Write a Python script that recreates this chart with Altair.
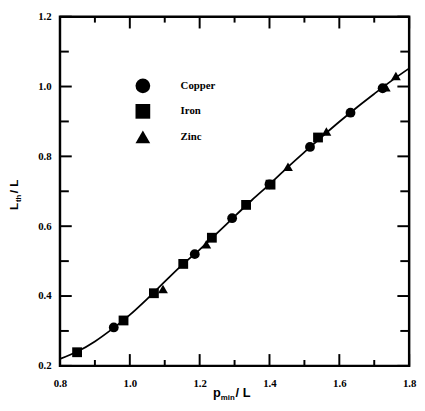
import altair as alt
import pandas as pd

# ---- data ----
copper_x = [0.954, 1.186, 1.293, 1.400, 1.516, 1.632, 1.724]
copper_y = [0.310, 0.520, 0.623, 0.720, 0.827, 0.925, 0.995]
iron_x = [0.849, 0.982, 1.069, 1.153, 1.235, 1.333, 1.403, 1.539]
iron_y = [0.239, 0.330, 0.408, 0.492, 0.567, 0.661, 0.719, 0.854]
zinc_x = [1.095, 1.219, 1.453, 1.563, 1.733, 1.762]
zinc_y = [0.420, 0.548, 0.770, 0.871, 0.998, 1.030]

curve_x = [0.80, 0.85, 0.90, 0.95, 1.00, 1.05, 1.10, 1.15, 1.20, 1.25, 1.30,
           1.35, 1.40, 1.45, 1.50, 1.55, 1.60, 1.65, 1.70, 1.75, 1.80]
curve_y = [0.220, 0.241, 0.270, 0.306, 0.346, 0.392, 0.441, 0.489, 0.533, 0.580, 0.628,
           0.675, 0.720, 0.767, 0.812, 0.856, 0.899, 0.940, 0.979, 1.017, 1.052]

metals = ["Copper", "Iron", "Zinc"]
x_major = [0.8, 1.0, 1.2, 1.4, 1.6, 1.8]
x_minor = [0.9, 1.1, 1.3, 1.5, 1.7]
y_major = [0.2, 0.4, 0.6, 0.8, 1.0, 1.2]
y_minor = [0.3, 0.5, 0.7, 0.9, 1.1]

pts = pd.DataFrame({
    "metal": ["Copper"] * len(copper_x) + ["Iron"] * len(iron_x) + ["Zinc"] * len(zinc_x),
    "x": copper_x + iron_x + zinc_x,
    "y": copper_y + iron_y + zinc_y,
})
curve = pd.DataFrame({"x": curve_x, "y": curve_y})

W, H = 356, 356
SERIF = "Liberation Serif"
SANS = "Liberation Sans"

xscale = alt.Scale(domain=[0.8, 1.8], nice=False, zero=False)
yscale = alt.Scale(domain=[0.2, 1.2], nice=False, zero=False)

xaxis = alt.Axis(values=x_major, format=".1f", ticks=False, domain=False, grid=False,
                 labelFont=SERIF, labelFontWeight="bold", labelFontSize=11,
                 labelColor="black", labelPadding=12, labelFlush=False, title=None)
yaxis = alt.Axis(values=y_major, format=".1f", ticks=False, domain=False, grid=False,
                 labelFont=SERIF, labelFontWeight="bold", labelFontSize=11,
                 labelColor="black", labelPadding=9, title=None)

line = alt.Chart(curve).mark_line(color="black", strokeWidth=1.8, interpolate="monotone").encode(
    x=alt.X("x:Q", scale=xscale, axis=xaxis),
    y=alt.Y("y:Q", scale=yscale, axis=yaxis),
)

points = alt.Chart(pts).mark_point(filled=True, color="black", opacity=1, size=100).encode(
    x=alt.X("x:Q", scale=xscale, axis=xaxis),
    y=alt.Y("y:Q", scale=yscale, axis=yaxis),
    shape=alt.Shape("metal:N",
                    scale=alt.Scale(domain=metals, range=["circle", "square", "triangle-up"]),
                    legend=alt.Legend(orient="none", legendX=77, legendY=63, title=None,
                                      symbolSize=225, symbolFillColor="black",
                                      symbolStrokeColor="black", symbolStrokeWidth=0,
                                      labelFont=SERIF, labelFontWeight="bold",
                                      labelFontSize=11, labelColor="black",
                                      labelOffset=31, rowPadding=11, padding=0)),
)

def xticks(vals, y0, y1):
    return alt.Chart(pd.DataFrame({"x": vals})).mark_rule(color="black", strokeWidth=2).encode(
        x=alt.X("x:Q", scale=xscale, axis=xaxis), y=alt.value(y0), y2=alt.value(y1))

def yticks(vals, x0, x1):
    return alt.Chart(pd.DataFrame({"y": vals})).mark_rule(color="black", strokeWidth=2).encode(
        y=alt.Y("y:Q", scale=yscale, axis=yaxis), x=alt.value(x0), x2=alt.value(x1))

ticks = [
    xticks(x_major, H, H - 12), xticks(x_minor, H, H - 6),
    xticks(x_major, 0, 12), xticks(x_minor, 0, 6),
    yticks(y_major, 0, 12), yticks(y_minor, 0, 9),
    yticks(y_major, W, W - 12), yticks(y_minor, W, W - 9),
]

one = pd.DataFrame({"a": [0]})

def label(txt, x, y, size, angle=0, font=SANS):
    return alt.Chart(one).mark_text(text=txt, font=font, fontWeight="bold", fontSize=size,
                                    color="black", align="left", baseline="alphabetic",
                                    angle=angle).encode(x=alt.value(x), y=alt.value(y))

titles = [
    label("p", 156, 388, 13),
    label("min", 164, 391, 8),
    label("/ L", 179, 388, 13),
    label("L", -43, 197, 12, angle=270),
    label("th", -40, 189, 8, angle=270),
    label("/ L", -43, 180, 12, angle=270),
]

chart = alt.layer(line, points, *ticks, *titles).properties(
    width=W, height=H,
    background="white",
    autosize=alt.AutoSizeParams(type="none"),
    padding={"left": 53, "top": 5, "right": 8, "bottom": 34},
).configure_view(stroke="black", strokeWidth=2.5)

chart.save("out.html", embed_options={"renderer": "svg", "actions": False})
